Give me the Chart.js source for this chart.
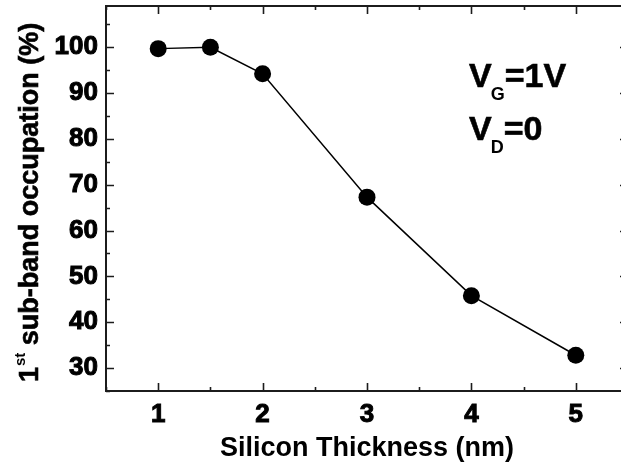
<!DOCTYPE html>
<html>
<head>
<meta charset="utf-8">
<script src="https://cdn.jsdelivr.net/npm/chart.js@4/dist/chart.umd.min.js"></script>
<style>
  html, body { margin: 0; padding: 0; background: #ffffff; overflow: hidden; }
  #wrap { width: 621px; height: 471px; overflow: hidden; position: relative; }
  #c { position: absolute; left: 0; top: 0; }
</style>
</head>
<body>
<div id="wrap"><canvas id="c" width="630" height="471"></canvas></div>
<script>
// ---- data ----
const thicknessNm = [1, 1.5, 2, 3, 4, 5];
const occupationPct = [99.7, 100.0, 94.2, 67.3, 45.8, 32.8];
const xTickValues = [1, 2, 3, 4, 5];
const yTickValues = [30, 40, 50, 60, 70, 80, 90, 100];
const xTitle = 'Silicon Thickness (nm)';
const yTitleParts = ['1', 'st', ' sub-band occupation (%)'];
const annotationLines = [['V', 'G', '=1V'], ['V', 'D', '=0']];

const FONT = '"Liberation Sans", Arial, Helvetica, sans-serif';
const INK = '#000000';
const FRAME = '#1c1c1c';

const framePlugin = {
  id: 'frameTicks',
  afterDraw(chart) {
    const ctx = chart.ctx;
    const a = chart.chartArea;
    const xs = chart.scales.x, ys = chart.scales.y;
    ctx.save();
    ctx.strokeStyle = FRAME;
    ctx.lineWidth = 2;
    ctx.strokeRect(a.left, a.top, a.right - a.left, a.bottom - a.top);
    ctx.lineWidth = 1.6;
    ctx.beginPath();
    for (let v = xs.min; v <= xs.max + 1e-9; v += 0.5) {
      const px = Math.round(xs.getPixelForValue(v)) + 0.5;
      const major = Math.abs(v - Math.round(v)) < 1e-9;
      const len = major ? 8 : 4;
      ctx.moveTo(px, a.bottom); ctx.lineTo(px, a.bottom - len);
      ctx.moveTo(px, a.top); ctx.lineTo(px, a.top + len);
    }
    for (let v = Math.ceil(ys.min / 5) * 5; v <= ys.max + 1e-9; v += 5) {
      const py = Math.round(ys.getPixelForValue(v)) + 0.5;
      const major = v % 10 === 0;
      const len = major ? 8 : 4;
      ctx.moveTo(a.left, py); ctx.lineTo(a.left + len, py);
      ctx.moveTo(a.right, py); ctx.lineTo(a.right - len, py);
    }
    ctx.stroke();

    // y-axis title with superscript
    ctx.fillStyle = INK;
    ctx.strokeStyle = INK;
    ctx.lineWidth = 0.6;
    ctx.textBaseline = 'alphabetic';
    ctx.textAlign = 'left';
    ctx.translate(37.5, 382);
    ctx.rotate(-Math.PI / 2);
    let xpos = 0;
    ctx.font = 'bold 27px ' + FONT;
    ctx.fillText(yTitleParts[0], xpos, 0);
    ctx.strokeText(yTitleParts[0], xpos, 0);
    xpos += ctx.measureText(yTitleParts[0]).width;
    ctx.font = 'bold 15px ' + FONT;
    ctx.fillText(yTitleParts[1], xpos + 1, -13);
    xpos += ctx.measureText(yTitleParts[1]).width + 1;
    ctx.font = 'bold 27px ' + FONT;
    ctx.fillText(yTitleParts[2], xpos, 0);
    ctx.strokeText(yTitleParts[2], xpos, 0);
    ctx.restore();

    // annotation V_G=1V, V_D=0
    ctx.save();
    ctx.fillStyle = INK;
    ctx.strokeStyle = INK;
    ctx.lineWidth = 0.6;
    ctx.textAlign = 'left';
    ctx.textBaseline = 'alphabetic';
    const baselines = [87, 140];
    annotationLines.forEach((parts, i) => {
      let x = 469;
      const y = baselines[i];
      ctx.font = 'bold 34px ' + FONT;
      ctx.fillText(parts[0], x, y);
      ctx.strokeText(parts[0], x, y);
      x += ctx.measureText(parts[0]).width - 1;
      ctx.font = 'bold 18px ' + FONT;
      ctx.fillText(parts[1], x, y + 13);
      x += ctx.measureText(parts[1]).width;
      ctx.font = 'bold 34px ' + FONT;
      ctx.fillText(parts[2], x, y);
      ctx.strokeText(parts[2], x, y);
    });
    ctx.restore();
  }
};

new Chart(document.getElementById('c'), {
  type: 'line',
  data: {
    datasets: [{
      data: thicknessNm.map((x, i) => ({ x: x, y: occupationPct[i] })),
      borderColor: INK,
      backgroundColor: INK,
      borderWidth: 1.5,
      pointRadius: 8.5,
      pointHoverRadius: 8.5,
      pointBackgroundColor: INK,
      pointBorderColor: INK,
      pointBorderWidth: 0,
      tension: 0,
      fill: false
    }]
  },
  options: {
    responsive: false,
    animation: false,
    events: [],
    layout: { autoPadding: false, padding: { left: 0, right: 2, top: 6, bottom: 0 } },
    plugins: { legend: { display: false }, tooltip: { enabled: false } },
    scales: {
      x: {
        type: 'linear',
        min: 0.5,
        max: 5.5,
        grid: { display: false, drawTicks: false },
        border: { display: false },
        afterBuildTicks: (s) => { s.ticks = xTickValues.map(v => ({ value: v })); },
        afterFit: (s) => { s.height = 80; s.paddingLeft = 0; s.paddingRight = 0; },
        ticks: {
          autoSkip: false,
          maxRotation: 0,
          padding: 8,
          color: INK,
          textStrokeColor: INK,
          textStrokeWidth: 1,
          font: { family: FONT, size: 26, weight: 'bold' },
          callback: (v) => String(v)
        },
        title: {
          display: true,
          text: xTitle,
          color: INK,
          padding: { top: 0, bottom: 6 },
          font: { family: FONT, size: 27, weight: 'bold' }
        }
      },
      y: {
        type: 'linear',
        min: 25,
        max: 109,
        grid: { display: false, drawTicks: false },
        border: { display: false },
        afterBuildTicks: (s) => { s.ticks = yTickValues.map(v => ({ value: v })); },
        afterFit: (s) => { s.width = 106; s.paddingTop = 0; s.paddingBottom = 0; },
        ticks: {
          autoSkip: false,
          padding: 8,
          color: INK,
          textStrokeColor: INK,
          textStrokeWidth: 1,
          font: { family: FONT, size: 26, weight: 'bold' },
          callback: (v) => String(v)
        }
      }
    }
  },
  plugins: [framePlugin]
});
</script>
</body>
</html>
